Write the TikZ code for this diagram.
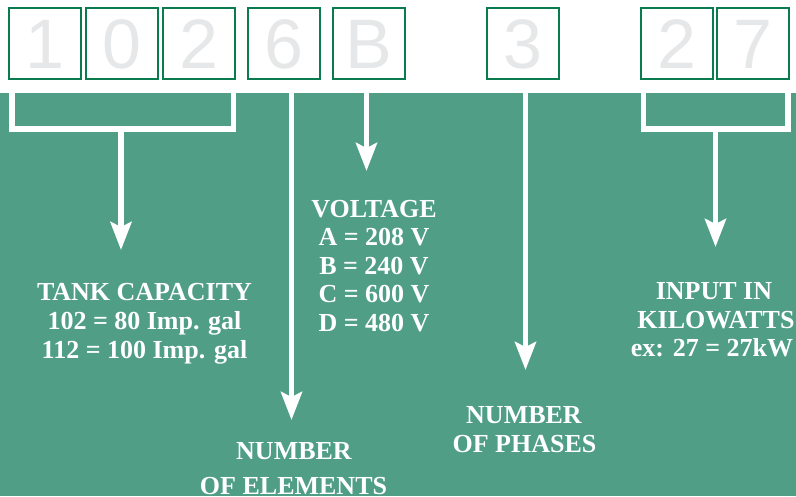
\documentclass[tikz,border=0pt]{standalone}
\usepackage{fontspec}
\setmainfont{Liberation Serif}
\newfontfamily\digitfont{Liberation Sans}
\usetikzlibrary{arrows.meta}
\definecolor{bggreen}{HTML}{4F9E85}
\definecolor{boxgreen}{HTML}{0A7B4F}
\definecolor{digitgrey}{HTML}{E6E7E8}
\tikzset{
  digitbox/.style={draw=boxgreen, line width=2pt, fill=white, minimum width=72pt, minimum height=71pt, inner sep=0pt},
  digit/.style={text=digitgrey, font=\digitfont\fontsize{70}{70}\selectfont, inner sep=0pt, anchor=base},
  label/.style={text=white, font=\bfseries\fontsize{26}{29}\selectfont, inner sep=0pt, anchor=base},
  wline/.style={draw=white, line width=5.5pt, line join=miter},
  warrow/.style={wline, -{Stealth[length=28pt,width=21pt,inset=5pt]}}
}
\begin{document}
\begin{tikzpicture}[x=1pt,y=-1pt]
\path[use as bounding box] (0,0) rectangle (796,496);
\clip (0,0) rectangle (796,496);
\fill[white] (0,0) rectangle (796,496);
\fill[bggreen] (0,93) rectangle (796,496);

% digit boxes
\node[digitbox] (b1) at (45,43.5) {};
\node[digitbox] (b2) at (122,43.5) {};
\node[digitbox] (b3) at (199,43.5) {};
\node[digitbox] (b4) at (284,43.5) {};
\node[digitbox] (b5) at (369,43.5) {};
\node[digitbox] (b6) at (523,43.5) {};
\node[digitbox] (b7) at (676.5,43.5) {};
\node[digitbox] (b8) at (753,43.5) {};
\node[digit] (d1) at (45,68.3) {1};
\node[digit] (d2) at (122,68.3) {0};
\node[digit] (d3) at (199,68.3) {2};
\node[digit] (d4) at (284,68.3) {6};
\node[digit] (d5) at (369,68.3) {B};
\node[digit] (d6) at (523,68.3) {3};
\node[digit] (d7) at (676.5,68.3) {2};
\node[digit] (d8) at (753,68.3) {7};

% connector anchor points
\coordinate (tankL) at (12,93);
\coordinate (tankR) at (233.5,93);
\coordinate (tankM) at (121,129);
\coordinate (tankTip) at (121,250);
\coordinate (elemTop) at (291.5,93);
\coordinate (elemTip) at (291.5,420);
\coordinate (voltTop) at (366.5,93);
\coordinate (voltTip) at (366.5,171);
\coordinate (phTop) at (525.5,93);
\coordinate (phTip) at (525.5,370);
\coordinate (kwL) at (643.5,93);
\coordinate (kwR) at (788,93);
\coordinate (kwM) at (715.5,129);
\coordinate (kwTip) at (715.5,247);

% brackets and arrows
\draw[wline] (tankL) |- (tankM) -| (tankR);
\draw[warrow] (tankM) -- (tankTip);
\draw[warrow] (elemTop) -- (elemTip);
\draw[warrow] (voltTop) -- (voltTip);
\draw[warrow] (phTop) -- (phTip);
\draw[wline] (kwL) |- (kwM) -| (kwR);
\draw[warrow] (kwM) -- (kwTip);

% labels
\node[label] (tk1) at (144.5,300) {TANK CAPACITY};
\node[label] (tk2) at (144.5,329) {102 = 80 Imp. gal};
\node[label] (tk3) at (144.5,358) {112 = 100 Imp. gal};

\node[label] (v1) at (374,217) {VOLTAGE};
\node[label] (v2) at (374,245.5) {A = 208 V};
\node[label] (v3) at (374,274) {B = 240 V};
\node[label] (v4) at (374,302.5) {C = 600 V};
\node[label] (v5) at (374,331) {D = 480 V};

\node[label] (e1) at (294,459) {NUMBER};
\node[label] (e2) at (293.5,494) {OF ELEMENTS};

\node[label] (p1) at (524,423) {NUMBER};
\node[label] (p2) at (524.5,452) {OF PHASES};

\node[label] (k1) at (714,299) {INPUT IN};
\node[label] (k2) at (716,328) {KILOWATTS};
\node[label] (k3) at (712,356) {ex: 27 = 27kW};
\end{tikzpicture}
\end{document}
